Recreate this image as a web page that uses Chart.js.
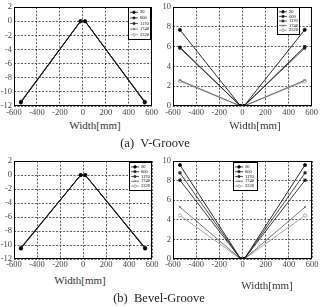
<!DOCTYPE html>
<html>
<head>
<meta charset="utf-8">
<script src="https://cdn.jsdelivr.net/npm/chart.js@4/dist/chart.umd.min.js"></script>
<style>
    body { margin: 0; background: #fff; width: 325px; height: 307px; position: relative; overflow: hidden; font-family: 'Liberation Serif', 'Times New Roman', serif; }
    canvas { position: absolute; }
    .lbl { position: absolute; transform: translate(-50%, -50%); white-space: nowrap; color: #333; }
    .axt { font-size: 11px; }
    .cap { font-size: 12.5px; color: #222; }
</style>
</head>
<body>
<canvas id="c1" width="160" height="118" style="left:0;top:0"></canvas>
<canvas id="c2" width="162" height="118" style="left:158px;top:0"></canvas>
<canvas id="c3" width="160" height="118" style="left:0;top:154px"></canvas>
<canvas id="c4" width="162" height="118" style="left:158px;top:154px"></canvas>

<div class="lbl axt" style="left:95px;top:125px">Width[mm]</div>
<div class="lbl axt" style="left:255px;top:125px">Width[mm]</div>
<div class="lbl cap" style="left:155px;top:143px">(a)&nbsp;&nbsp;V-Groove</div>
<div class="lbl axt" style="left:80px;top:280px">Width[mm]</div>
<div class="lbl axt" style="left:267px;top:285px">Width[mm]</div>
<div class="lbl cap" style="left:159px;top:298px">(b)&nbsp;&nbsp;Bevel-Groove</div>

<script>
    // series names (legend)
    const seriesLabels = ["20", "600", "1170", "1740", "2320"];

    // x positions of the measured points [mm]
    const widthDef = [-540, -20, 20, 540];
    const widthLat = [-540, -15, 15, 540];

    // (a) V-Groove
    const vDef = [
        [-11.5, 0, 0, -11.5],
        [-11.45, 0, 0, -11.45],
        [-11.4, 0, 0, -11.4],
        [-11.45, 0, 0, -11.4],
        [-11.35, 0, 0, -11.35],
    ];
    const vLat = [
        [7.7, 0, 0, 7.7],
        [5.95, 0, 0, 6.0],
        [5.85, 0, 0, 5.85],
        [2.6, 0, 0, 2.6],
        [2.5, 0, 0, 2.5],
    ];

    // (b) Bevel-Groove
    const bDef = [
        [-10.5, 0, 0, -10.5],
        [-10.45, 0, 0, -10.45],
        [-10.4, 0, 0, -10.4],
        [-10.45, 0, 0, -10.5],
        [-10.35, 0, 0, -10.35],
    ];
    const bLat = [
        [9.6, 0, 0, 9.6],
        [8.05, 0, 0, 8.05],
        [8.8, 0, 0, 8.8],
        [5.3, 0, 0, 5.3],
        [4.45, 0, 0, 4.45],
    ];

    // axis ranges
    const xRange = { min: -600, max: 600, step: 200 };
    const defRange = { min: -12, max: 2, step: 2 };
    const latRange = { min: 0, max: 10, step: 2 };

    const serif = "'Liberation Serif', 'Times New Roman', serif";
    const lineColors = ["#111", "#222", "#333", "#666", "#999"];
    const markers = ["circle", "rect", "rect", "crossRot", "circle"];
    const markerFill = ["#000", "#000", "#222", "#666", "#fff"];

    // frame around plot area + small boxed legend inside it
    const boxLegend = {
        id: "boxLegend",
        afterDatasetsDraw(chart, args, opts) {
            const ctx = chart.ctx;
            const a = chart.chartArea;
            ctx.save();
            ctx.strokeStyle = "#000";
            ctx.lineWidth = 1;
            ctx.strokeRect(Math.round(a.left) + 0.5, Math.round(a.top) + 0.5,
                Math.round(a.right - a.left) - 1, Math.round(a.bottom - a.top) - 1);

            ctx.fillStyle = "#fff";
            ctx.fillRect(opts.x, opts.y, opts.w, opts.h);
            ctx.strokeRect(opts.x + 0.5, opts.y + 0.5, opts.w, opts.h);
            const n = chart.data.datasets.length;
            const rowH = (opts.h - 4) / n;
            chart.data.datasets.forEach((ds, i) => {
                const cy = opts.y + 2.5 + rowH * (i + 0.5);
                ctx.strokeStyle = ds.borderColor;
                ctx.lineWidth = 0.8;
                ctx.beginPath();
                ctx.moveTo(opts.x + 2, cy);
                ctx.lineTo(opts.x + 10, cy);
                ctx.stroke();
                ctx.fillStyle = ds.pointBackgroundColor;
                Chart.helpers.drawPoint(ctx, { pointStyle: ds.pointStyle, radius: 1.3, borderWidth: 0.8 }, opts.x + 6, cy);
                ctx.fillStyle = "#000";
                ctx.font = "4.5px " + serif;
                ctx.textBaseline = "middle";
                ctx.fillText(ds.label, opts.x + 12, cy);
            });
            ctx.restore();
        },
    };

    function makeChart(id, xs, rows, yr, legendBox, yWidth, xHeight, xPad) {
        const ctx = document.getElementById(id).getContext("2d");
        return new Chart(ctx, {
            type: "line",
            data: {
                datasets: rows.map((vals, i) => ({
                    label: seriesLabels[i],
                    data: vals.map((v, j) => ({ x: xs[j], y: v })),
                    borderColor: lineColors[i],
                    borderWidth: 0.9,
                    pointStyle: markers[i],
                    pointRadius: 1.6,
                    pointBorderWidth: 0.8,
                    pointBorderColor: lineColors[i],
                    pointBackgroundColor: markerFill[i],
                    tension: 0,
                })),
            },
            options: {
                responsive: false,
                animation: false,
                layout: { padding: { top: 6, right: 8, left: 0, bottom: 0 } },
                plugins: {
                    legend: { display: false },
                    tooltip: { enabled: false },
                    boxLegend: legendBox,
                },
                scales: {
                    x: {
                        type: "linear",
                        min: xRange.min,
                        max: xRange.max,
                        afterFit: (s) => { s.height = xHeight; },
                        ticks: {
                            stepSize: xRange.step,
                            autoSkip: false,
                            maxRotation: 0,
                            padding: xPad,
                            color: "#444",
                            font: { family: serif, size: 8.5 },
                        },
                        grid: { color: "#333", lineWidth: 0.8, drawTicks: false },
                        border: { display: false, dash: [2, 1.5] },
                    },
                    y: {
                        min: yr.min,
                        max: yr.max,
                        afterFit: (s) => { s.width = yWidth; },
                        ticks: {
                            stepSize: yr.step,
                            padding: 2,
                            color: "#444",
                            font: { family: serif, size: 8.5 },
                        },
                        grid: { color: "#333", lineWidth: 0.8, drawTicks: false },
                        border: { display: false, dash: [2, 1.5] },
                    },
                },
            },
            plugins: [boxLegend],
        });
    }

    makeChart("c1", widthDef, vDef, defRange, { x: 128, y: 7, w: 22, h: 32 }, 14, 12, 2);
    makeChart("c2", widthLat, vLat, latRange, { x: 119, y: 7, w: 22, h: 27 }, 15, 12, 2);
    makeChart("c3", widthDef, bDef, defRange, { x: 129, y: 8, w: 22, h: 28 }, 14, 13, 1);
    makeChart("c4", widthLat, bLat, latRange, { x: 75, y: 8, w: 24, h: 28 }, 15, 13, 1);
</script>
</body>
</html>
